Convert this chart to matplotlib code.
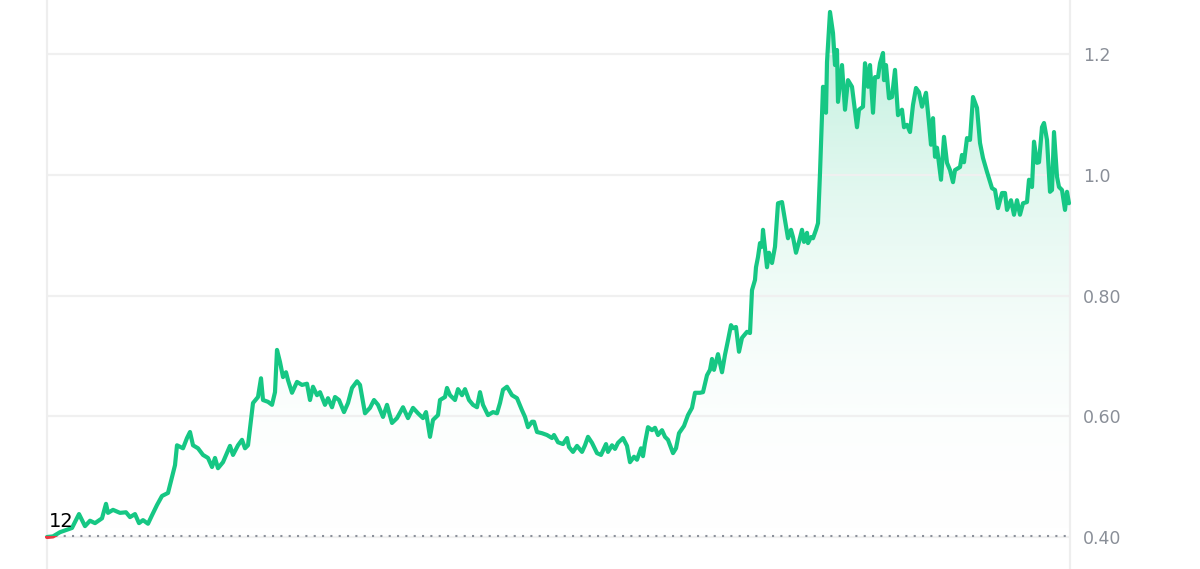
import numpy as np
import matplotlib
matplotlib.use("Agg")
import matplotlib.pyplot as plt
from matplotlib.patches import Rectangle
from matplotlib.colors import LinearSegmentedColormap

# time index (arbitrary steps) and price values
t = [0, 6, 13, 25, 32, 38, 43, 48, 55, 59, 61, 66, 73, 79, 83, 88, 92, 96, 101, 105,
     110, 115, 121, 125, 128, 130, 136, 140, 143, 146, 151, 156, 161, 165, 168, 171, 176,
     183, 186, 191, 195, 198, 201, 206, 211, 214, 216, 221, 225, 228, 230, 233, 236, 239,
     241, 245, 250, 255, 260, 263, 266, 270, 273, 278, 281, 285, 288, 292, 297, 301, 305,
     310, 313, 318, 323, 327, 331, 336, 340, 345, 350, 356, 361, 366, 371, 376, 379, 383,
     386, 391, 393, 398, 400, 403, 408, 411, 415, 418, 422, 426, 430, 433, 436, 441, 446,
     450, 453, 456, 460, 465, 470, 475, 478, 481, 485, 487, 490, 495, 500, 505, 507, 511,
     516, 520, 522, 526, 530, 535, 538, 541, 545, 550, 554, 559, 561, 565, 568, 571, 576,
     580, 583, 587, 590, 594, 596, 598, 601, 605, 608, 611, 615, 618, 621, 626, 629, 632,
     637, 641, 645, 648, 653, 656, 660, 663, 665, 667, 671, 675, 678, 681, 684, 686, 689,
     692, 695, 700, 703, 705, 708, 709, 711, 713, 715, 716, 720, 722, 725, 728, 731, 735,
     738, 741, 744, 746, 749, 752, 755, 757, 760, 761, 764, 766, 769, 771, 773, 775, 776,
     779, 780, 783, 786, 788, 790, 791, 795, 798, 801, 805, 810, 812, 816, 818, 821, 823,
     826, 828, 831, 833, 836, 837, 839, 842, 845, 848, 851, 855, 857, 860, 863, 866, 869,
     872, 875, 879, 882, 884, 886, 888, 890, 894, 897, 900, 903, 906, 908, 913, 915, 917,
     920, 923, 926, 930, 933, 936, 940, 945, 948, 951, 955, 958, 960, 964, 967, 970, 973,
     976, 980, 982, 985, 987, 990, 992, 995, 997, 1000, 1003, 1005, 1007, 1010, 1012, 1015,
     1018, 1020, 1022]

price = [0.400, 0.401, 0.408, 0.415, 0.438, 0.418, 0.427, 0.423, 0.431, 0.455, 0.440, 0.445,
         0.440, 0.441, 0.433, 0.438, 0.423, 0.428, 0.422, 0.436, 0.453, 0.468, 0.473, 0.499,
         0.519, 0.552, 0.547, 0.564, 0.574, 0.552, 0.547, 0.536, 0.531, 0.516, 0.531, 0.514,
         0.524, 0.551, 0.536, 0.552, 0.561, 0.547, 0.552, 0.622, 0.632, 0.663, 0.627, 0.624,
         0.619, 0.640, 0.710, 0.690, 0.665, 0.673, 0.660, 0.639, 0.657, 0.652, 0.654, 0.627,
         0.649, 0.635, 0.640, 0.619, 0.630, 0.615, 0.632, 0.627, 0.607, 0.622, 0.647, 0.658,
         0.652, 0.605, 0.614, 0.627, 0.619, 0.599, 0.619, 0.589, 0.597, 0.615, 0.597, 0.614,
         0.605, 0.597, 0.607, 0.566, 0.594, 0.602, 0.627, 0.632, 0.647, 0.635, 0.627, 0.645,
         0.635, 0.645, 0.627, 0.619, 0.615, 0.640, 0.619, 0.602, 0.607, 0.605, 0.622, 0.644,
         0.649, 0.635, 0.630, 0.610, 0.599, 0.582, 0.591, 0.591, 0.574, 0.572, 0.569, 0.564,
         0.569, 0.557, 0.554, 0.564, 0.549, 0.541, 0.551, 0.541, 0.552, 0.566, 0.556, 0.539,
         0.536, 0.554, 0.541, 0.552, 0.546, 0.556, 0.564, 0.551, 0.524, 0.533, 0.528, 0.547,
         0.534, 0.556, 0.582, 0.577, 0.581, 0.569, 0.577, 0.566, 0.561, 0.539, 0.547, 0.572,
         0.584, 0.602, 0.614, 0.639, 0.639, 0.640, 0.668, 0.677, 0.695, 0.677, 0.703, 0.673,
         0.702, 0.726, 0.751, 0.746, 0.748, 0.707, 0.730, 0.740, 0.738, 0.809, 0.826, 0.847,
         0.864, 0.887, 0.881, 0.909, 0.847, 0.871, 0.854, 0.881, 0.953, 0.955, 0.925, 0.895,
         0.909, 0.897, 0.871, 0.889, 0.909, 0.889, 0.904, 0.887, 0.897, 0.895, 0.909, 0.920,
         1.003, 1.096, 1.146, 1.103, 1.187, 1.270, 1.235, 1.182, 1.207, 1.121, 1.182, 1.108,
         1.157, 1.146, 1.079, 1.108, 1.113, 1.185, 1.146, 1.182, 1.103, 1.162, 1.162, 1.185,
         1.202, 1.157, 1.182, 1.127, 1.129, 1.174, 1.099, 1.108, 1.079, 1.083, 1.071, 1.116,
         1.144, 1.137, 1.113, 1.136, 1.086, 1.050, 1.094, 1.030, 1.045, 0.992, 1.063, 1.020,
         1.008, 0.988, 1.008, 1.013, 1.033, 1.021, 1.061, 1.058, 1.129, 1.111, 1.053, 1.028,
         1.005, 0.978, 0.975, 0.945, 0.970, 0.970, 0.942, 0.958, 0.934, 0.958, 0.934, 0.953,
         0.955, 0.992, 0.980, 1.055, 1.020, 1.021, 1.079, 1.086, 1.058, 0.972, 0.975, 1.071,
         0.997, 0.980, 0.975, 0.942, 0.972, 0.953]

ref_price = 0.402          # opening price (dotted reference line)
tick_values = [0.40, 0.60, 0.80, 1.0, 1.2]
tick_labels = ["0.40", "0.60", "0.80", "1.0", "1.2"]
start_label = "12"

t = np.array(t, dtype=float)
price = np.array(price, dtype=float)

GREEN = "#16c784"
RED = "#ea3943"

fig = plt.figure(figsize=(12, 5.69), dpi=100)
ax = fig.add_axes([47 / 1200, 0, 1023 / 1200, 1])

ax.set_yticks(tick_values)
ax.set_yticklabels(tick_labels)
ax.grid(axis="y", color="#f0f0f0", linewidth=1.6, zorder=0)
ax.grid(axis="x", visible=False)
ax.set_xticks([])
ax.yaxis.tick_right()
ax.tick_params(axis="y", length=0, pad=9.5, labelsize=12.5, labelcolor="#8a8f98")

for side in ["top", "bottom"]:
    ax.spines[side].set_visible(False)
for side in ["left", "right"]:
    ax.spines[side].set_color("#eeeeee")
    ax.spines[side].set_linewidth(1.6)

# gradient fill between line and reference price
poly = ax.fill_between(t, price, ref_price, where=price >= ref_price, interpolate=True,
                       facecolor="none", edgecolor="none")
top = price.max()
grad = np.linspace(0, 1, 256).reshape(-1, 1)
cmap = LinearSegmentedColormap.from_list(
    "g", [(1, 1, 1, 0), (22 / 255, 199 / 255, 132 / 255, 0.29)])
im = ax.imshow(grad, aspect="auto", cmap=cmap, origin="lower",
               extent=[t[0], t[-1], ref_price, top], zorder=1, interpolation="bicubic")
im.set_clip_path(poly.get_paths()[0], transform=ax.transData)
ax.set_xlim(t[0], t[-1] + 1)
ax.set_ylim(0.347, 1.2898)

# reference dotted line
ax.axhline(ref_price, color="#8c919b", linewidth=1.5, linestyle=(0, (1, 3)), zorder=2)

# price line: green above reference, red below
line_g, = ax.plot(t, price, color=GREEN, linewidth=3.0, solid_joinstyle="round",
                  solid_capstyle="round", zorder=3)
line_r, = ax.plot(t, price, color=RED, linewidth=3.0, solid_joinstyle="round",
                  solid_capstyle="round", zorder=3)
above = Rectangle((t[0] - 50, ref_price), t[-1] + 100, 5, transform=ax.transData)
below = Rectangle((t[0] - 50, ref_price - 5), t[-1] + 100, 5, transform=ax.transData)
line_g.set_clip_path(above)
line_r.set_clip_path(below)

ax.text(t[0] + 2, ref_price + 0.014, start_label, fontsize=14, color="black",
        va="baseline", ha="left", zorder=4)

fig.savefig("out.png", dpi=100)
